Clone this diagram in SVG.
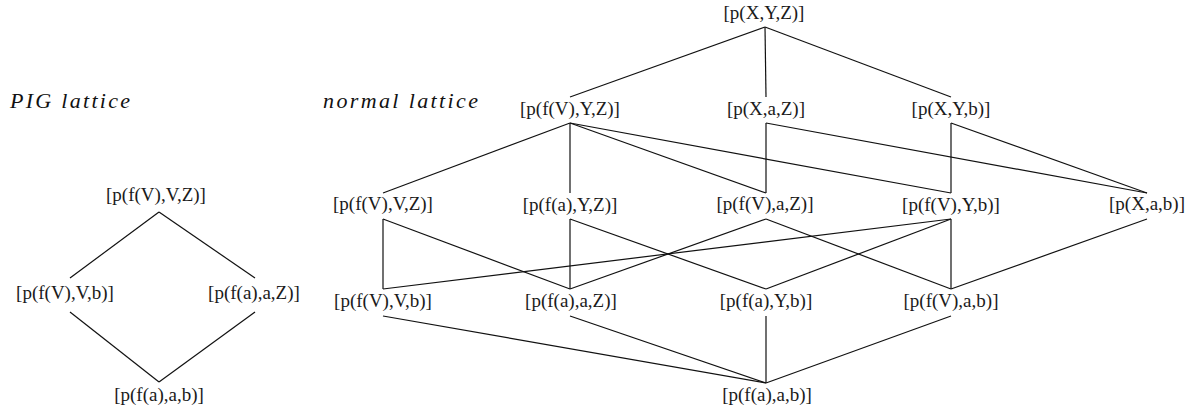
<svg xmlns="http://www.w3.org/2000/svg" width="1201" height="414" viewBox="0 0 1201 414">
  <style>
    .term { font-family: "Liberation Serif", "Times New Roman", serif; font-size: 19px; fill: #1a1a1a; text-anchor: middle; }
    .title { font-family: "Liberation Serif", "Times New Roman", serif; font-style: italic; font-size: 22px; fill: #111; }
    .edges line { stroke: #111; stroke-width: 1.2; fill: none; }
  </style>
  <rect width="1201" height="414" fill="#ffffff"/>

  <!-- section titles -->
  <text class="title" x="10" y="108" textLength="120" lengthAdjust="spacing">PIG lattice</text>
  <text class="title" x="323" y="108" textLength="155" lengthAdjust="spacing">normal lattice</text>

  <!-- PIG lattice edges -->
  <g id="pig-edges" class="edges">
    <line x1="159" y1="212" x2="70" y2="278"/>
    <line x1="159" y1="212" x2="255" y2="278"/>
    <line x1="70" y1="312" x2="159" y2="382"/>
    <line x1="255" y1="312" x2="159" y2="382"/>
  </g>

  <!-- PIG lattice nodes -->
  <g id="pig-fV-V-Z"><text class="term" x="156" y="201">[p(f(V),V,Z)]</text></g>
  <g id="pig-fV-V-b"><text class="term" x="65" y="299">[p(f(V),V,b)]</text></g>
  <g id="pig-fa-a-Z"><text class="term" x="254" y="299">[p(f(a),a,Z)]</text></g>
  <g id="pig-fa-a-b"><text class="term" x="159" y="401">[p(f(a),a,b)]</text></g>

  <!-- normal lattice edges -->
  <g id="normal-edges" class="edges">
    <!-- top to row 1 -->
    <line x1="765" y1="27" x2="570" y2="97"/>
    <line x1="765" y1="27" x2="766" y2="97"/>
    <line x1="765" y1="27" x2="951" y2="97"/>
    <!-- row 1 to row 2 -->
    <line x1="570" y1="123" x2="383" y2="193"/>
    <line x1="570" y1="123" x2="570" y2="193"/>
    <line x1="570" y1="123" x2="766" y2="193"/>
    <line x1="570" y1="123" x2="951" y2="193"/>
    <line x1="766" y1="123" x2="766" y2="193"/>
    <line x1="766" y1="123" x2="1147" y2="193"/>
    <line x1="951" y1="123" x2="951" y2="193"/>
    <line x1="951" y1="123" x2="1147" y2="193"/>
    <!-- row 2 to row 3 -->
    <line x1="383" y1="219" x2="383" y2="289"/>
    <line x1="383" y1="219" x2="570" y2="289"/>
    <line x1="570" y1="219" x2="570" y2="289"/>
    <line x1="570" y1="219" x2="766" y2="289"/>
    <line x1="766" y1="219" x2="570" y2="289"/>
    <line x1="766" y1="219" x2="951" y2="289"/>
    <line x1="951" y1="219" x2="383" y2="289"/>
    <line x1="951" y1="219" x2="766" y2="289"/>
    <line x1="951" y1="219" x2="951" y2="289"/>
    <line x1="1147" y1="219" x2="951" y2="289"/>
    <!-- row 3 to bottom -->
    <line x1="383" y1="316" x2="766" y2="383"/>
    <line x1="570" y1="316" x2="766" y2="383"/>
    <line x1="766" y1="316" x2="766" y2="383"/>
    <line x1="951" y1="316" x2="766" y2="383"/>
  </g>

  <!-- normal lattice nodes -->
  <g id="n-X-Y-Z"><text class="term" x="764" y="19">[p(X,Y,Z)]</text></g>

  <g id="n-fV-Y-Z"><text class="term" x="570" y="115">[p(f(V),Y,Z)]</text></g>
  <g id="n-X-a-Z"><text class="term" x="766" y="115">[p(X,a,Z)]</text></g>
  <g id="n-X-Y-b"><text class="term" x="951" y="115">[p(X,Y,b)]</text></g>

  <g id="n-fV-V-Z"><text class="term" x="383" y="210">[p(f(V),V,Z)]</text></g>
  <g id="n-fa-Y-Z"><text class="term" x="570" y="211">[p(f(a),Y,Z)]</text></g>
  <g id="n-fV-a-Z"><text class="term" x="765" y="210">[p(f(V),a,Z)]</text></g>
  <g id="n-fV-Y-b"><text class="term" x="951" y="211">[p(f(V),Y,b)]</text></g>
  <g id="n-X-a-b"><text class="term" x="1147" y="210">[p(X,a,b)]</text></g>

  <g id="n-fV-V-b"><text class="term" x="383" y="307">[p(f(V),V,b)]</text></g>
  <g id="n-fa-a-Z"><text class="term" x="571" y="307">[p(f(a),a,Z)]</text></g>
  <g id="n-fa-Y-b"><text class="term" x="766" y="307">[p(f(a),Y,b)]</text></g>
  <g id="n-fV-a-b"><text class="term" x="951" y="307">[p(f(V),a,b)]</text></g>

  <g id="n-fa-a-b"><text class="term" x="767" y="401">[p(f(a),a,b)]</text></g>
</svg>
